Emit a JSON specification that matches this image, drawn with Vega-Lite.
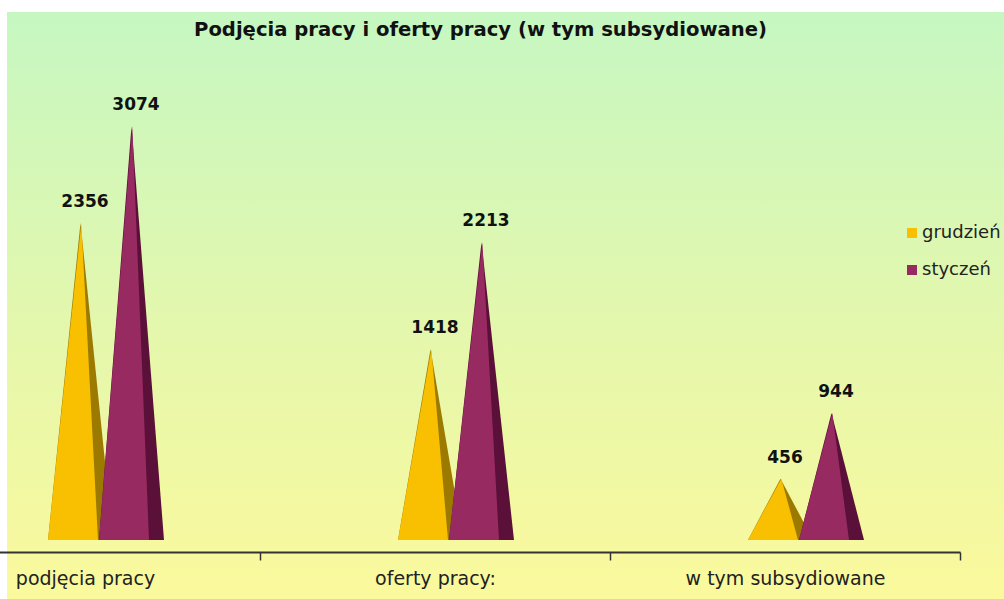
{
  "$schema": "https://vega.github.io/schema/vega-lite/v6.json",
  "width": 997,
  "height": 587,
  "autosize": {"type": "none"},
  "padding": {"left": 7, "top": 12, "right": 0, "bottom": 0},
  "background": "white",
  "view": {
    "stroke": null,
    "fill": {
      "gradient": "linear", "x1": 0, "y1": 0, "x2": 0, "y2": 1,
      "stops": [
        {"offset": 0, "color": "#c6f7c2"},
        {"offset": 0.5, "color": "#e2f7ae"},
        {"offset": 1, "color": "#fbf99c"}
      ]
    }
  },
  "title": {
    "text": "Podjęcia pracy i oferty pracy (w tym subsydiowane)",
    "font": "DejaVu Sans",
    "fontSize": 19.6,
    "fontWeight": "bold",
    "color": "#111111",
    "anchor": "middle",
    "frame": "group",
    "dx": -25,
    "dy": 33
  },
  "data": {
    "values": [
      {"cat": "podjęcia pracy", "month": "grudzień", "value": 2356},
      {"cat": "podjęcia pracy", "month": "styczeń", "value": 3074},
      {"cat": "oferty pracy:", "month": "grudzień", "value": 1418},
      {"cat": "oferty pracy:", "month": "styczeń", "value": 2213},
      {"cat": "w tym subsydiowane", "month": "grudzień", "value": 456},
      {"cat": "w tym subsydiowane", "month": "styczeń", "value": 944}
    ]
  },
  "transform": [
    {"calculate": "0", "as": "L"},
    {"calculate": "datum.value", "as": "M"},
    {"calculate": "0", "as": "R"},
    {"fold": ["L", "M", "R"], "as": ["vertex", "h"]}
  ],
  "config": {
    "axisX": {
      "orient": "bottom",
      "offset": -47,
      "tickBand": "extent",
      "tickSize": 8,
      "tickWidth": 1.5,
      "tickColor": "#333333",
      "domainWidth": 2,
      "domainColor": "#333333",
      "labelFont": "DejaVu Sans",
      "labelFontSize": 19,
      "labelColor": "#222222",
      "labelPadding": 9,
      "labelLimit": 400,
      "labelAngle": 0,
      "grid": false
    }
  },
  "resolve": {"scale": {"xOffset": "independent"}},
  "layer": [
    {
      "transform": [{"filter": "datum.month === 'grudzień'"}],
      "mark": {"type": "area", "color": "#9c7a00"},
      "encoding": {
        "x": {"field": "cat", "type": "nominal", "title": null, "sort": ["podjęcia pracy", "oferty pracy:", "w tym subsydiowane"], "scale": {"domain": ["podjęcia pracy", "oferty pracy:", "w tym subsydiowane"], "range": [-97, 953], "paddingInner": 0, "paddingOuter": 0}},
        "xOffset": {"field": "vertex", "type": "nominal", "scale": {"type": "point", "domain": ["L", "M", "R"], "range": [138, 203], "padding": 0}},
        "y": {"field": "h", "type": "quantitative", "stack": null, "axis": null, "scale": {"domain": [0, 3500], "range": [528, 57], "nice": false}},
        "detail": {"field": "cat", "type": "nominal"}
      }
    },
    {
      "transform": [{"filter": "datum.month === 'grudzień'"}],
      "mark": {"type": "area"},
      "encoding": {
        "x": {"field": "cat", "type": "nominal", "title": null, "sort": ["podjęcia pracy", "oferty pracy:", "w tym subsydiowane"], "scale": {"domain": ["podjęcia pracy", "oferty pracy:", "w tym subsydiowane"], "range": [-97, 953], "paddingInner": 0, "paddingOuter": 0}},
        "xOffset": {"field": "vertex", "type": "nominal", "scale": {"type": "point", "domain": ["L", "d", "M", "R"], "range": [138, 188], "padding": 0}},
        "y": {"field": "h", "type": "quantitative", "stack": null, "axis": null, "scale": {"domain": [0, 3500], "range": [528, 57], "nice": false}},
        "detail": {"field": "cat", "type": "nominal"},
        "color": {"field": "month", "type": "nominal", "scale": {"domain": ["grudzień", "styczeń"], "range": ["#f8c000", "#982a62"]}, "legend": {"orient": "none", "legendX": 896, "legendY": 212, "title": null, "symbolType": "square", "symbolSize": 100, "symbolStrokeWidth": 0, "symbolOpacity": 1, "labelFont": "DejaVu Sans", "labelFontSize": 18, "labelColor": "#222222", "labelOffset": 1, "rowPadding": 19, "padding": 0}}
      }
    },
    {
      "transform": [{"filter": "datum.month === 'styczeń'"}],
      "mark": {"type": "area", "color": "#5a1038"},
      "encoding": {
        "x": {"field": "cat", "type": "nominal", "title": null, "sort": ["podjęcia pracy", "oferty pracy:", "w tym subsydiowane"], "scale": {"domain": ["podjęcia pracy", "oferty pracy:", "w tym subsydiowane"], "range": [-97, 953], "paddingInner": 0, "paddingOuter": 0}},
        "xOffset": {"field": "vertex", "type": "nominal", "scale": {"type": "point", "domain": ["L", "M", "R"], "range": [189, 254], "padding": 0}},
        "y": {"field": "h", "type": "quantitative", "stack": null, "axis": null, "scale": {"domain": [0, 3500], "range": [528, 57], "nice": false}},
        "detail": {"field": "cat", "type": "nominal"}
      }
    },
    {
      "transform": [{"filter": "datum.month === 'styczeń'"}],
      "mark": {"type": "area"},
      "encoding": {
        "x": {"field": "cat", "type": "nominal", "title": null, "sort": ["podjęcia pracy", "oferty pracy:", "w tym subsydiowane"], "scale": {"domain": ["podjęcia pracy", "oferty pracy:", "w tym subsydiowane"], "range": [-97, 953], "paddingInner": 0, "paddingOuter": 0}},
        "xOffset": {"field": "vertex", "type": "nominal", "scale": {"type": "point", "domain": ["L", "d", "M", "R"], "range": [189, 239], "padding": 0}},
        "y": {"field": "h", "type": "quantitative", "stack": null, "axis": null, "scale": {"domain": [0, 3500], "range": [528, 57], "nice": false}},
        "detail": {"field": "cat", "type": "nominal"},
        "color": {"field": "month", "type": "nominal", "scale": {"domain": ["grudzień", "styczeń"], "range": ["#f8c000", "#982a62"]}, "legend": {"orient": "none", "legendX": 896, "legendY": 212, "title": null, "symbolType": "square", "symbolSize": 100, "symbolStrokeWidth": 0, "symbolOpacity": 1, "labelFont": "DejaVu Sans", "labelFontSize": 18, "labelColor": "#222222", "labelOffset": 1, "rowPadding": 19, "padding": 0}}
      }
    },
    {
      "transform": [{"filter": "datum.vertex === 'M'"}],
      "mark": {"type": "text", "font": "DejaVu Sans", "fontSize": 17, "fontWeight": "bold", "color": "#111111", "baseline": "alphabetic", "align": "center", "dy": -16},
      "encoding": {
        "x": {"field": "cat", "type": "nominal", "title": null, "sort": ["podjęcia pracy", "oferty pracy:", "w tym subsydiowane"], "scale": {"domain": ["podjęcia pracy", "oferty pracy:", "w tym subsydiowane"], "range": [-97, 953], "paddingInner": 0, "paddingOuter": 0}},
        "xOffset": {"field": "month", "type": "nominal", "scale": {"type": "point", "domain": ["grudzień", "styczeń"], "range": [175, 226], "padding": 0}},
        "y": {"field": "value", "type": "quantitative", "axis": null, "scale": {"domain": [0, 3500], "range": [528, 57], "nice": false}},
        "text": {"field": "value", "type": "quantitative"}
      }
    }
  ]
}
